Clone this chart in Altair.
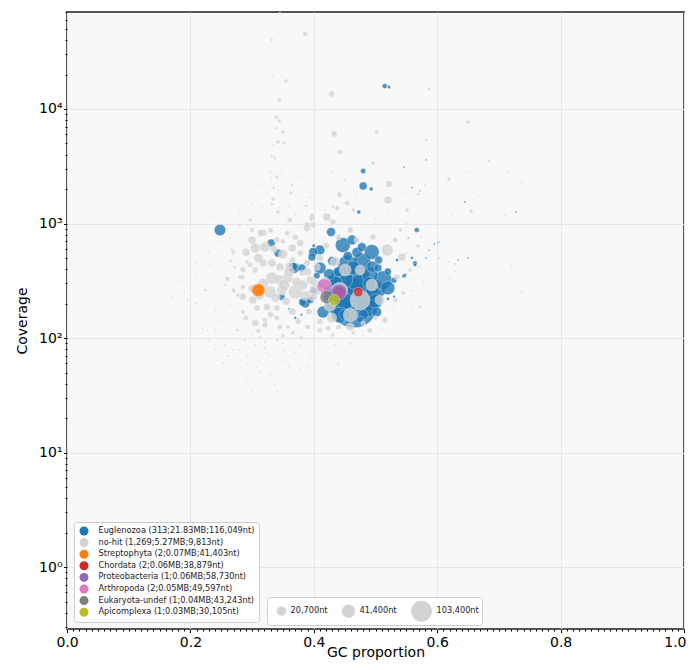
import altair as alt
import pandas as pd

taxa_labels = [
    "Euglenozoa (313;21.83MB;116,049nt)",
    "no-hit (1,269;5.27MB;9,813nt)",
    "Streptophyta (2;0.07MB;41,403nt)",
    "Chordata (2;0.06MB;38,879nt)",
    "Proteobacteria (1;0.06MB;58,730nt)",
    "Arthropoda (2;0.05MB;49,597nt)",
    "Eukaryota-undef (1;0.04MB;43,243nt)",
    "Apicomplexa (1;0.03MB;30,105nt)",
]
taxa_colors = ["#1f77b4", "#d3d3d3", "#ff7f0e", "#d62728", "#9467bd", "#e377c2", "#7f7f7f", "#bcbd22"]

size_legend_values = [20700, 41400, 103400]

# (GC proportion, coverage, length in nt)
euglenozoa_points = [
    (0.465, 200, 550000), (0.455, 245, 300000), (0.478, 262, 220000), (0.442, 194, 146000),
    (0.488, 224, 160000), (0.470, 340, 150000), (0.445, 330, 120000), (0.431, 290, 94000),
    (0.455, 434, 94000), (0.500, 262, 90000), (0.485, 185, 90000), (0.430, 230, 80000),
    (0.478, 461, 76000), (0.512, 321, 80000), (0.450, 210, 70000), (0.491, 355, 60000),
    (0.442, 159, 60000), (0.447, 649, 53000), (0.494, 564, 53000), (0.500, 210, 50000),
    (0.520, 274, 46000), (0.464, 409, 46000), (0.490, 300, 40000), (0.435, 250, 40000),
    (0.410, 409, 34000), (0.415, 169, 34000), (0.248, 877, 31000), (0.425, 360, 30000),
    (0.495, 420, 30000), (0.450, 160, 30000), (0.368, 409, 28000), (0.440, 380, 25000),
    (0.470, 560, 25000), (0.480, 160, 25000), (0.462, 718, 23000), (0.410, 587, 23000),
    (0.502, 169, 23000), (0.386, 202, 22000), (0.366, 417, 20000), (0.455, 520, 20000),
    (0.430, 470, 20000), (0.415, 300, 20000), (0.425, 190, 20000), (0.428, 843, 19000),
    (0.478, 623, 19000), (0.399, 564, 19000), (0.331, 676, 15000), (0.342, 552, 15000),
    (0.504, 409, 15000), (0.505, 480, 15000), (0.397, 509, 15000), (0.382, 206, 15000),
    (0.381, 409, 15000), (0.480, 2128, 15000), (0.520, 380, 12000), (0.394, 215, 12000),
    (0.348, 228, 11000), (0.475, 145, 10000), (0.405, 350, 10000), (0.400, 260, 9000),
    (0.455, 140, 8000), (0.530, 320, 8000), (0.480, 2875, 6500), (0.515, 15880, 6000),
    (0.567, 877, 6000), (0.564, 452, 5000), (0.473, 1259, 3700), (0.546, 348, 3700),
    (0.493, 2001, 3500), (0.564, 434, 3000), (0.400, 640, 3000), (0.522, 15560, 2500),
    (0.535, 480, 2500), (0.520, 220, 2500), (0.559, 500, 2100), (0.370, 150, 2000),
    (0.548, 355, 2000), (0.380, 160, 1500), (0.530, 230, 1500), (0.360, 180, 1200),
    (0.645, 1542, 900), (0.728, 1259, 900), (0.582, 500, 900), (0.650, 500, 900),
    (0.546, 3114, 800), (0.559, 2059, 800), (0.595, 662, 800), (0.634, 480, 800),
    (0.582, 3589, 700), (0.553, 747, 700), (0.587, 587, 700), (0.603, 689, 700),
    (0.587, 14960, 600), (0.600, 676, 600),
]

nohit_points = [
    # inside the main cluster
    (0.442, 262, 60000), (0.475, 215, 94000), (0.459, 159, 45900), (0.426, 194, 33700),
    (0.494, 290, 33700), (0.475, 393, 23400), (0.451, 393, 33700), (0.434, 461, 23400),
    (0.507, 215, 23400), (0.418, 308, 23400), (0.402, 262, 33700), (0.386, 235, 23400),
    # main grey cloud
    (0.300, 718, 15000), (0.318, 826, 11500), (0.305, 611, 23000), (0.321, 623, 23000),
    (0.340, 718, 8400), (0.357, 826, 5900), (0.365, 611, 15000), (0.378, 676, 11500),
    (0.389, 914, 11500), (0.318, 452, 15000), (0.332, 452, 15000), (0.345, 417, 15000),
    (0.305, 393, 8400), (0.332, 334, 33700), (0.345, 321, 23400), (0.358, 334, 23400),
    (0.370, 252, 45900), (0.329, 252, 33700), (0.348, 262, 23400), (0.382, 290, 23400),
    (0.394, 321, 15000), (0.399, 228, 15000), (0.301, 215, 15000), (0.324, 187, 11500),
    (0.308, 183, 8400), (0.340, 183, 8400), (0.305, 135, 11500), (0.321, 144, 5900),
    (0.340, 150, 5900), (0.345, 125, 5900), (0.358, 125, 3700), (0.285, 279, 5900),
    (0.280, 341, 3700), (0.292, 461, 3700), (0.272, 417, 2100), (0.285, 169, 3700),
    (0.378, 552, 8400), (0.366, 480, 8400), (0.389, 452, 11500), (0.381, 370, 8400),
    (0.405, 417, 11500), (0.389, 971, 8400), (0.399, 971, 8400), (0.361, 1073, 5900),
    (0.421, 1140, 15000), (0.431, 1030, 8400), (0.438, 1365, 5900), (0.397, 1117, 8400),
    (0.454, 1510, 5900), (0.442, 1775, 5900), (0.464, 1312, 3700), (0.459, 877, 8400),
    (0.470, 718, 8400), (0.496, 762, 8400), (0.519, 587, 33700), (0.520, 1603, 15000),
    (0.522, 2213, 11500), (0.496, 3375, 3700), (0.442, 4210, 5900), (0.543, 509, 15000),
    (0.535, 341, 8400), (0.429, 150, 23400), (0.459, 125, 15000), (0.423, 122, 5900),
    (0.431, 106, 3700), (0.464, 111, 3700), (0.321, 130, 8400), (0.277, 237, 3700),
    (0.284, 341, 5900), (0.297, 434, 5900), (0.314, 826, 11500),
    (0.532, 718, 5900), (0.540, 877, 3700), (0.556, 393, 3700), (0.532, 215, 5900),
    (0.515, 144, 8400), (0.491, 117, 5900), (0.410, 117, 5900),
    (0.290, 560, 15000), (0.310, 500, 20000), (0.335, 600, 12000), (0.350, 540, 20000),
    (0.360, 380, 26000), (0.318, 300, 26000), (0.300, 270, 15000), (0.285, 230, 12000),
    (0.312, 235, 20000), (0.355, 210, 15000), (0.365, 170, 12000), (0.392, 170, 9000),
    (0.375, 140, 8000), (0.352, 290, 30000), (0.338, 225, 20000), (0.372, 310, 20000),
    (0.390, 380, 15000), (0.410, 500, 12000), (0.420, 640, 9000), (0.440, 760, 8000),
    (0.370, 760, 8000), (0.350, 700, 6000), (0.330, 870, 6000), (0.300, 880, 5000),
    (0.270, 560, 4000), (0.260, 330, 6000), (0.270, 260, 5000), (0.290, 150, 6000),
    (0.310, 115, 5000), (0.350, 105, 4000), (0.390, 125, 6000), (0.410, 140, 8000),
    (0.440, 125, 6000), (0.480, 135, 5000), (0.500, 150, 5000), (0.380, 100, 3000),
    (0.330, 160, 9000), (0.285, 395, 7000), (0.265, 470, 3000), (0.360, 430, 12000),
    (0.400, 310, 15000),
    # high-coverage column
    (0.334, 19800, 900), (0.355, 17570, 3700), (0.344, 11990, 3700), (0.339, 8510, 3700),
    (0.344, 7850, 3700), (0.340, 6830, 2100), (0.350, 6300, 3700), (0.342, 5150, 3700),
    (0.352, 5050, 2100), (0.334, 4850, 900), (0.332, 3890, 2100), (0.337, 3735, 2100),
    (0.342, 3375, 900), (0.329, 2818, 900), (0.348, 2933, 900), (0.340, 2547, 2100),
    (0.331, 2496, 900), (0.345, 2700, 900), (0.335, 2042, 2100), (0.342, 1963, 900),
    (0.323, 1885, 900), (0.334, 1637, 3700), (0.363, 1850, 2100), (0.332, 1480, 2100),
    (0.345, 1393, 900), (0.342, 1259, 3700), (0.365, 2170, 2100), (0.391, 1885, 900),
    (0.394, 1703, 900), (0.387, 1422, 2100), (0.397, 1186, 3700), (0.418, 1312, 900),
    (0.431, 1393, 2100), (0.316, 1393, 900), (0.233, 1140, 900), (0.264, 747, 900),
    (0.292, 971, 900), (0.441, 1810, 3700),
    (0.280, 1300, 900), (0.300, 1500, 900), (0.260, 900, 900), (0.360, 1400, 900),
    (0.380, 2500, 900), (0.400, 3000, 900), (0.310, 2200, 900), (0.370, 1200, 900),
    (0.500, 1100, 900), (0.520, 1300, 900), (0.550, 1000, 900), (0.470, 1700, 900),
    (0.450, 2400, 900), (0.430, 2800, 900),
    # very high coverage
    (0.386, 45200, 5900), (0.332, 40100, 2100), (0.345, 68900, 900), (0.429, 13520, 8400),
    (0.433, 6050, 8400), (0.502, 6300, 3700), (0.402, 9600, 900),
    # right-hand scatter
    (0.650, 7700, 3700), (0.684, 3515, 2100), (0.619, 2450, 3700), (0.582, 5360, 2100),
    (0.593, 4945, 900), (0.677, 4945, 900), (0.648, 2818, 900), (0.634, 2084, 900),
    (0.669, 1739, 900), (0.715, 2818, 900), (0.737, 2303, 900), (0.580, 2170, 900),
    (0.572, 1923, 2100), (0.569, 1810, 2100), (0.548, 1845, 900), (0.551, 1312, 3700),
    (0.655, 1286, 3700), (0.710, 1186, 900), (0.624, 1210, 900), (0.569, 636, 3700),
    (0.556, 689, 900), (0.575, 762, 900), (0.603, 500, 2100), (0.629, 443, 2100),
    (0.635, 417, 900), (0.629, 385, 900), (0.619, 461, 900), (0.720, 425, 900),
    (0.736, 252, 900), (0.577, 308, 900), (0.561, 327, 900), (0.545, 247, 3700),
    (0.605, 233, 900), (0.572, 187, 2100), (0.559, 187, 900),
    (0.550, 550, 900), (0.570, 420, 900), (0.600, 380, 900), (0.620, 330, 900),
    (0.530, 180, 900), (0.510, 120, 900), (0.560, 260, 900),
    # low-coverage tail
    (0.280, 78.5, 900), (0.305, 86.9, 1200), (0.329, 71.1, 900), (0.353, 78.5, 1200),
    (0.378, 86.9, 900), (0.394, 71.1, 900), (0.264, 64.3, 900), (0.313, 50.5, 900),
    (0.361, 54.7, 900), (0.337, 38.9, 900), (0.293, 58.1, 900), (0.410, 78.5, 900),
    (0.434, 86.9, 1200), (0.321, 31.8, 700), (0.345, 61.7, 900), (0.378, 52.6, 900),
    (0.288, 96.1, 1500), (0.256, 86.9, 900), (0.321, 92.3, 1500), (0.240, 117, 900),
    (0.227, 117, 900), (0.276, 117, 2100), (0.313, 102, 2100), (0.340, 96, 2100),
    (0.366, 111, 3700), (0.292, 68.2, 900), (0.324, 74, 900), (0.350, 64.3, 900),
    (0.389, 55.8, 900), (0.308, 55.8, 900), (0.253, 60.5, 900), (0.269, 78.5, 900),
    (0.418, 64.3, 900), (0.451, 75.5, 900), (0.475, 86.9, 900), (0.297, 43, 700),
    (0.361, 43, 700),
    (0.200, 150, 900), (0.220, 120, 900), (0.250, 140, 900), (0.230, 95, 900),
    (0.270, 100, 900), (0.300, 105, 900), (0.260, 70, 900), (0.280, 55, 900),
    (0.310, 62, 900), (0.330, 48, 900), (0.350, 90, 900), (0.370, 75, 900),
    (0.400, 95, 900), (0.420, 100, 900), (0.440, 60, 900), (0.460, 90, 900),
    (0.480, 105, 900), (0.290, 42, 900), (0.340, 35, 900), (0.320, 82, 900),
    (0.240, 80, 900), (0.360, 58, 900), (0.300, 34, 900),
    # left-hand scatter
    (0.224, 262, 2100), (0.209, 355, 900), (0.170, 228, 900), (0.196, 215, 900),
    (0.232, 434, 900), (0.240, 176, 900), (0.256, 290, 2100), (0.264, 194, 900),
    (0.267, 587, 2100), (0.280, 971, 2100), (0.297, 1073, 3700),
    (0.250, 180, 900), (0.210, 200, 900), (0.190, 250, 900), (0.180, 320, 900),
    (0.230, 560, 900), (0.250, 700, 900), (0.210, 450, 900),
]

streptophyta_points = [(0.311, 262, 29000), (0.310, 262, 41403)]
chordata_points = [(0.441, 250, 38879), (0.472, 252, 21000)]
proteobacteria_points = [(0.441, 252, 58730)]
arthropoda_points = [(0.417, 285, 49597), (0.394, 255, 1000)]
eukaryota_points = [(0.421, 228, 43243)]
apicomplexa_points = [(0.433, 215, 30105)]

groups = [euglenozoa_points, nohit_points, streptophyta_points, chordata_points,
          proteobacteria_points, arthropoda_points, eukaryota_points, apicomplexa_points]

rows = []
for label, pts in zip(taxa_labels, groups):
    for gc, cov, ln in pts:
        rows.append({"gc": gc, "cov": cov, "length": ln, "taxon": label, "order": len(rows)})
df = pd.DataFrame(rows)

x_values = [i / 100 for i in range(0, 101)]
y_values = []
for k in range(-1, 5):
    for m in range(1, 10):
        v = m * 10 ** k
        if 0.288 <= v <= 70300:
            y_values.append(v)

x_major_test = "abs(datum.value*5 - round(datum.value*5)) < 0.001"
y_major_test = "abs(log(datum.value)/LN10 - round(log(datum.value)/LN10)) < 0.001"
y_label_expr = (
    "!(" + y_major_test + ") ? '' : "
    "round(log(datum.value)/LN10) == 0 ? '10⁰' : "
    "round(log(datum.value)/LN10) == 1 ? '10¹' : "
    "round(log(datum.value)/LN10) == 2 ? '10²' : "
    "round(log(datum.value)/LN10) == 3 ? '10³' : '10⁴'"
)

chart = alt.Chart(df).mark_circle(
    opacity=0.78, stroke="white", strokeWidth=0.5, strokeOpacity=0.8
).encode(
    x=alt.X("gc:Q", scale=alt.Scale(domain=[0, 1], nice=False, zero=False),
            axis=alt.Axis(values=x_values, title="GC proportion",
                          labelExpr="(" + x_major_test + ") ? format(datum.value, '.1f') : ''",
                          tickSize={"condition": {"test": x_major_test, "value": 3.5}, "value": 2},
                          gridOpacity={"condition": {"test": x_major_test, "value": 1}, "value": 0},
                          labelAlign={"condition": {"test": "datum.value > 0.995", "value": "right"}, "value": "center"},
                          labelOffset={"condition": {"test": "datum.value > 0.995", "value": 2}, "value": 0},
                          labelOverlap=False, labelFlush=False, labelPadding=2.5, titlePadding=-4)),
    y=alt.Y("cov:Q", scale=alt.Scale(type="log", domain=[0.288, 70300], nice=False),
            axis=alt.Axis(values=y_values, title="Coverage", labelExpr=y_label_expr,
                          tickSize={"condition": {"test": y_major_test, "value": 3.5}, "value": 2},
                          gridOpacity={"condition": {"test": y_major_test, "value": 1}, "value": 0},
                          labelOverlap=False, labelFlush=False, labelPadding=1.5, titlePadding=9)),
    color=alt.Color("taxon:N", scale=alt.Scale(domain=taxa_labels, range=taxa_colors),
                    legend=alt.Legend(title=None, orient="none", legendX=7, legendY=510,
                                      symbolType="circle", symbolSize=81, symbolOpacity=1,
                                      symbolStrokeWidth=0, symbolOffset=1,
                                      labelFontSize=8.2, labelOffset=10,
                                      rowPadding=1.6, padding=4.5, labelLimit=300)),
    size=alt.Size("length:Q", scale=alt.Scale(domain=[0, 1000000], range=[0, 4266]),
                  legend=alt.Legend(title=None, orient="none", legendX=200, legendY=585,
                                    direction="horizontal", values=size_legend_values,
                                    labelExpr="format(datum.value, ',') + 'nt'",
                                    symbolType="circle", symbolFillColor="#d3d3d3",
                                    symbolOpacity=1, symbolStrokeWidth=0, symbolOffset=6.5,
                                    labelFontSize=8.2, labelOffset=4, columnPadding=7,
                                    padding=3)),
    order=alt.Order("order:Q"),
).properties(
    width=617, height=617,
    autosize=alt.AutoSizeParams(type="none"),
    padding={"left": 59, "top": 4, "right": 5, "bottom": 33},
).configure(
    font="DejaVu Sans"
).configure_view(
    fill="#f8f8f8", stroke="#555555", strokeWidth=2
).configure_axis(
    domain=False, tickColor="#000000", labelColor="#000000", titleColor="#000000",
    labelFontSize=14, titleFontSize=14, titleFontWeight="normal",
    gridColor="#e6e6ee", gridWidth=1, labelFont="DejaVu Sans", titleFont="DejaVu Sans"
).configure_legend(
    fillColor="white", strokeColor="#cccccc", cornerRadius=3, labelFont="DejaVu Sans",
    labelColor="#222222"
)

chart.save("out.html", embed_options={"renderer": "svg", "actions": False})
